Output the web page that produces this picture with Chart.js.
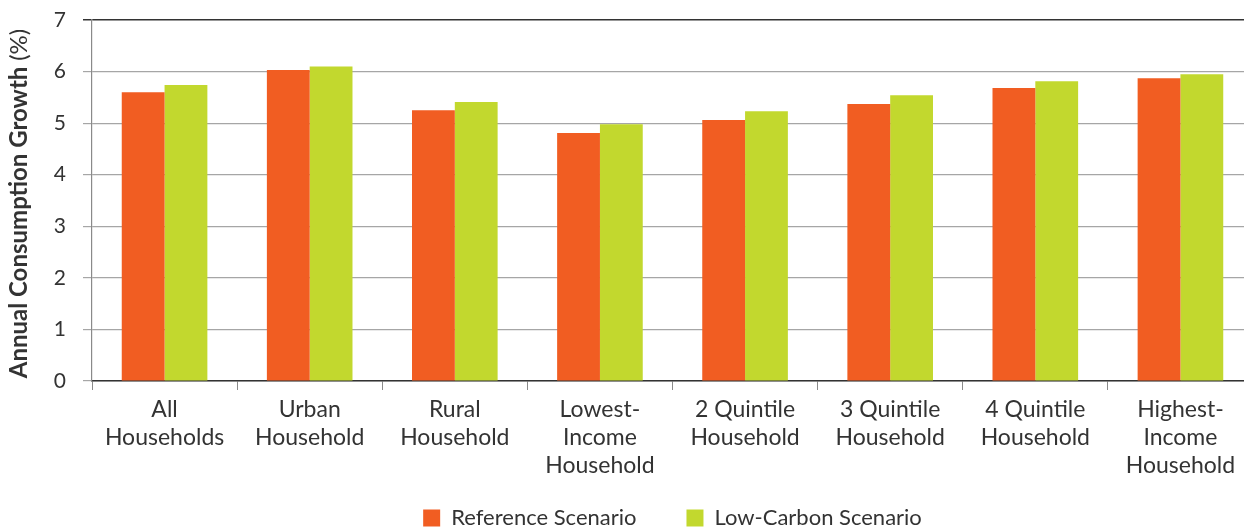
<!DOCTYPE html>
<html>
<head>
<meta charset="utf-8">
<script src="https://cdn.jsdelivr.net/npm/chart.js@4/dist/chart.umd.min.js"></script>
<style>
  html, body { margin: 0; padding: 0; background: #fff; overflow: hidden; }
  /* the last category runs slightly past the right edge in the original */
  #wrap { width: 1253px; height: 529px; position: relative; }
</style>
</head>
<body>
<div id="wrap"><canvas id="chart"></canvas></div>
<script>
  const categories = [
    ['All', 'Households'],
    ['Urban', 'Household'],
    ['Rural', 'Household'],
    ['Lowest-', 'Income', 'Household'],
    ['2 Quintile', 'Household'],
    ['3 Quintile', 'Household'],
    ['4 Quintile', 'Household'],
    ['Highest-', 'Income', 'Household']
  ];
  const referenceScenario = [5.60, 6.03, 5.25, 4.81, 5.06, 5.37, 5.68, 5.87];
  const lowCarbonScenario = [5.74, 6.10, 5.41, 4.98, 5.23, 5.54, 5.81, 5.95];
  const yTicks = [0, 1, 2, 3, 4, 5, 6, 7];

  const FONT = 'Lato, "Open Sans", sans-serif';
  const TEXT = '#333333';

  // y title: bold main part, plain "(%)"
  const yTitlePlugin = {
    id: 'yTitle',
    afterLayout(chart) {
      // legend sits a little right of centre in the original
      if (chart.legend) chart.legend.left = 92;
    },
    afterDraw(chart) {
      const { ctx, chartArea } = chart;
      const cy = (chartArea.top + chartArea.bottom) / 2 + 3;
      const bold = 'Annual Consumption Growth ';
      const size = 24;
      ctx.save();
      ctx.translate(19, cy);
      ctx.rotate(-Math.PI / 2);
      ctx.textBaseline = 'middle';
      ctx.textAlign = 'left';
      ctx.fillStyle = TEXT;
      ctx.font = 'bold ' + size + 'px ' + FONT;
      const w1 = ctx.measureText(bold).width;
      ctx.font = size + 'px ' + FONT;
      const w2 = ctx.measureText('(%)').width;
      const x0 = -(w1 + w2) / 2;
      ctx.font = 'bold ' + size + 'px ' + FONT;
      ctx.fillText(bold, x0, 0);
      ctx.font = size + 'px ' + FONT;
      ctx.fillText('(%)', x0 + w1, 0);
      ctx.restore();
    }
  };

  const ctx = document.getElementById('chart').getContext('2d');
  new Chart(ctx, {
    type: 'bar',
    data: {
      labels: categories,
      datasets: [
        {
          label: 'Reference Scenario',
          data: referenceScenario,
          backgroundColor: '#F15D22',
          categoryPercentage: 0.59,
          barPercentage: 1.0
        },
        {
          label: 'Low-Carbon Scenario',
          data: lowCarbonScenario,
          backgroundColor: '#C2D82E',
          categoryPercentage: 0.59,
          barPercentage: 1.0
        }
      ]
    },
    options: {
      responsive: true,
      maintainAspectRatio: false,
      animation: false,
      layout: { padding: { top: 20, right: 0, left: 0, bottom: -10 } },
      scales: {
        x: {
          afterFit(axis) {
            axis.height = 76;
            // three-line labels run past the axis box, so don't clip them
            axis._computeLabelArea = () => undefined;
          },
          grid: {
            drawOnChartArea: false,
            color: '#8a8a8a',
            tickLength: 9
          },
          border: { color: '#333333', width: 1.5 },
          ticks: {
            color: TEXT,
            font: { family: FONT, size: 23, lineHeight: '28px' },
            padding: 6,
            maxRotation: 0,
            autoSkip: false
          }
        },
        y: {
          min: 0,
          max: 7,
          afterBuildTicks(axis) {
            axis.ticks = yTicks.map(v => ({ value: v }));
          },
          afterFit(axis) {
            axis.width = 92;
            axis.paddingTop = 0;
            axis.paddingBottom = 0;
          },
          grid: {
            color: c => (c.tick && c.tick.value === 7 ? '#333333' : '#a6a6a6'),
            lineWidth: c => (c.tick && c.tick.value === 7 ? 1.5 : 1.2),
            tickLength: 9
          },
          border: { color: '#8a8a8a', width: 1.2 },
          ticks: {
            color: TEXT,
            font: { family: FONT, size: 21 },
            padding: 17
          }
        }
      },
      plugins: {
        legend: {
          position: 'bottom',
          labels: {
            color: TEXT,
            font: { family: FONT, size: 22 },
            boxWidth: 17,
            boxHeight: 17,
            padding: 50
          }
        },
        tooltip: { enabled: false }
      }
    },
    plugins: [yTitlePlugin]
  });
</script>
</body>
</html>
